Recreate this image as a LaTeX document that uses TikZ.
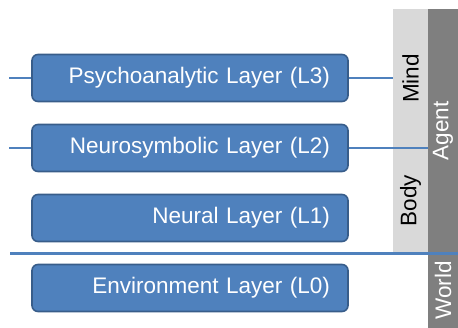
\documentclass[tikz,border=0pt]{standalone}
\usepackage{fontspec}
\setmainfont{Liberation Sans}
\usepackage{xcolor}
\usepackage{tikz}
\usetikzlibrary{positioning, calc}
\definecolor{layerblue}{RGB}{79,129,189}
\definecolor{layeredge}{RGB}{56,93,138}
\definecolor{lightbar}{RGB}{217,217,217}
\definecolor{darkbar}{RGB}{127,127,127}
\tikzset{
  layer/.style={rectangle, draw=layeredge, fill=layerblue, text=white,
    text width=280pt, align=right, inner xsep=18pt, inner ysep=0pt,
    minimum height=47pt, rounded corners=6pt, line width=1.6pt,
    font=\fontsize{22.5}{26}\selectfont},
  bar/.style={rectangle, inner sep=0pt, font=\fontsize{22.5}{26}\selectfont},
  link/.style={line width=2.4pt, color=layerblue}
}
\begin{document}
\begin{tikzpicture}[x=1pt, y=-1pt]
  \useasboundingbox (0,0) rectangle (458,328);

  % Side bars
  \node[bar, fill=lightbar, minimum width=35pt, minimum height=139pt] (mind) at (410.5,78.5) {\rotatebox{90}{Mind}};
  \node[bar, fill=lightbar, minimum width=35pt, minimum height=105pt] (body) at (410.5,200.5) {\rotatebox{90}{Body}};
  \node[bar, fill=darkbar, text=white, minimum width=30pt, minimum height=244pt] (agent) at (443,131) {\rotatebox{90}{Agent}};
  \node[bar, fill=darkbar, text=white, minimum width=30pt, minimum height=75pt] (world) at (443,290.5) {\rotatebox{90}{World}};

  % Layer boxes
  \node[layer] (l3) at (190,78) {Psychoanalytic Layer (L3)};
  \node[layer, below=21.4pt of l3] (l2) {Neurosymbolic Layer (L2)};
  \node[layer, below=21.4pt of l2] (l1) {Neural Layer (L1)};
  \node[layer, below=21.4pt of l1] (l0) {Environment Layer (L0)};

  % Connectors
  \path (l3.west) ++(-22,0) coordinate (in3);
  \path (l2.west) ++(-22,0) coordinate (in2);
  \coordinate (sepl) at (10,253.5);
  \coordinate (sepr) at (458,253.5);
  \draw[link] (in3) -- (l3.west);
  \draw[link] (l3.east) -- (l3.east -| mind.west);
  \draw[link] (in2) -- (l2.west);
  \draw[link] (l2.east) -- (l2.east -| agent.west);
  \draw[link] (sepl) -- (sepr);
\end{tikzpicture}
\end{document}
